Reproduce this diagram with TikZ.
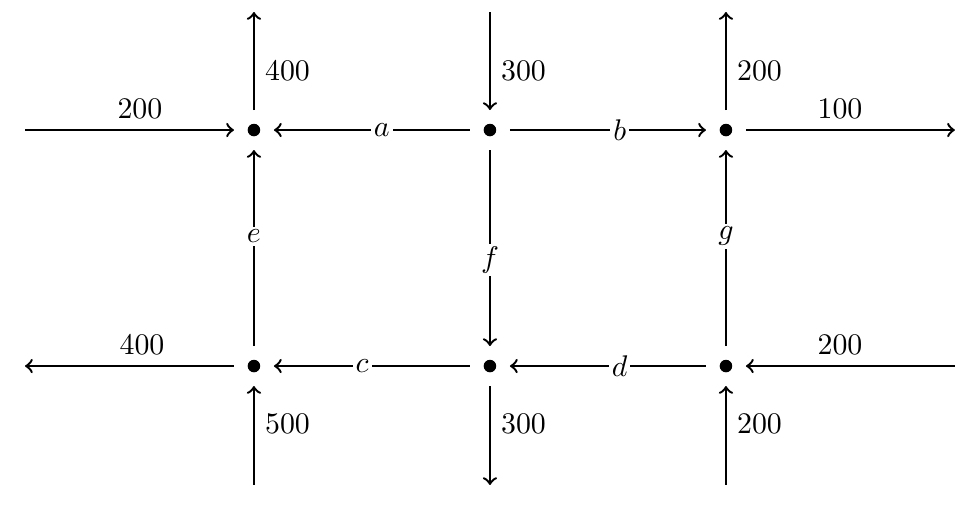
\documentclass[tikz,border=0pt]{standalone}
\usepackage{tikz}
\usetikzlibrary{arrows, positioning, calc}

\begin{document}
\begin{tikzpicture}[
    x=2.776cm, y=2.776cm,
    dot/.style = {circle, fill=black, inner sep=0pt, minimum size=4.2pt, outer sep=4.6pt},
    arrow/.style = {thick, ->},
    lbl/.style = {fill=white, inner sep=1pt}
]
\useasboundingbox (-1.076,-0.640) rectangle (3.034,1.551);

% Nodes of the grid
\node (tl) [dot] at (0,1) {};
\node (tm) [dot] at (1,1) {};
\node (tr) [dot] at (2,1) {};
\node (bl) [dot] at (0,0) {};
\node (bm) [dot] at (1,0) {};
\node (br) [dot] at (2,0) {};

% Free ends
\coordinate (wtl) at (-0.97,1);
\coordinate (ntl) at (0,1.5);
\coordinate (ntm) at (1,1.5);
\coordinate (ntr) at (2,1.5);
\coordinate (etr) at (2.97,1);
\coordinate (wbl) at (-0.97,0);
\coordinate (sbl) at (0,-0.504);
\coordinate (sbm) at (1,-0.504);
\coordinate (sbr) at (2,-0.504);
\coordinate (ebr) at (2.97,0);

% Inner arrows
\draw [arrow] (tm) -- node[lbl, pos=0.45]{$a$} (tl);
\draw [arrow] (tm) -- node[lbl, pos=0.56]{$b$} (tr);
\draw [arrow] (bm) -- node[lbl, pos=0.55]{$c$} (bl);
\draw [arrow] (br) -- node[lbl, pos=0.44]{$d$} (bm);
\draw [arrow] (bl) -- node[lbl, pos=0.56]{$e$} (tl);
\draw [arrow] (tm) -- node[lbl, pos=0.56]{$f$} (bm);
\draw [arrow] (br) -- node[lbl, pos=0.56]{$g$} (tr);

% Outer arrows
\draw [arrow] (wtl) -- node[above, pos=0.55]{200} (tl);
\draw [arrow] (tl) -- node[right, pos=0.4]{400} (ntl);
\draw [arrow] (ntm) -- node[right, pos=0.6]{300} (tm);
\draw [arrow] (tr) -- node[right, pos=0.4]{200} (ntr);
\draw [arrow] (tr) -- node[above, pos=0.45]{100} (etr);
\draw [arrow] (bl) -- node[above, pos=0.44]{400} (wbl);
\draw [arrow] (sbl) -- node[right, pos=0.62]{500} (bl);
\draw [arrow] (bm) -- node[right, pos=0.38]{300} (sbm);
\draw [arrow] (sbr) -- node[right, pos=0.62]{200} (br);
\draw [arrow] (ebr) -- node[above, pos=0.55]{200} (br);

\end{tikzpicture}
\end{document}
